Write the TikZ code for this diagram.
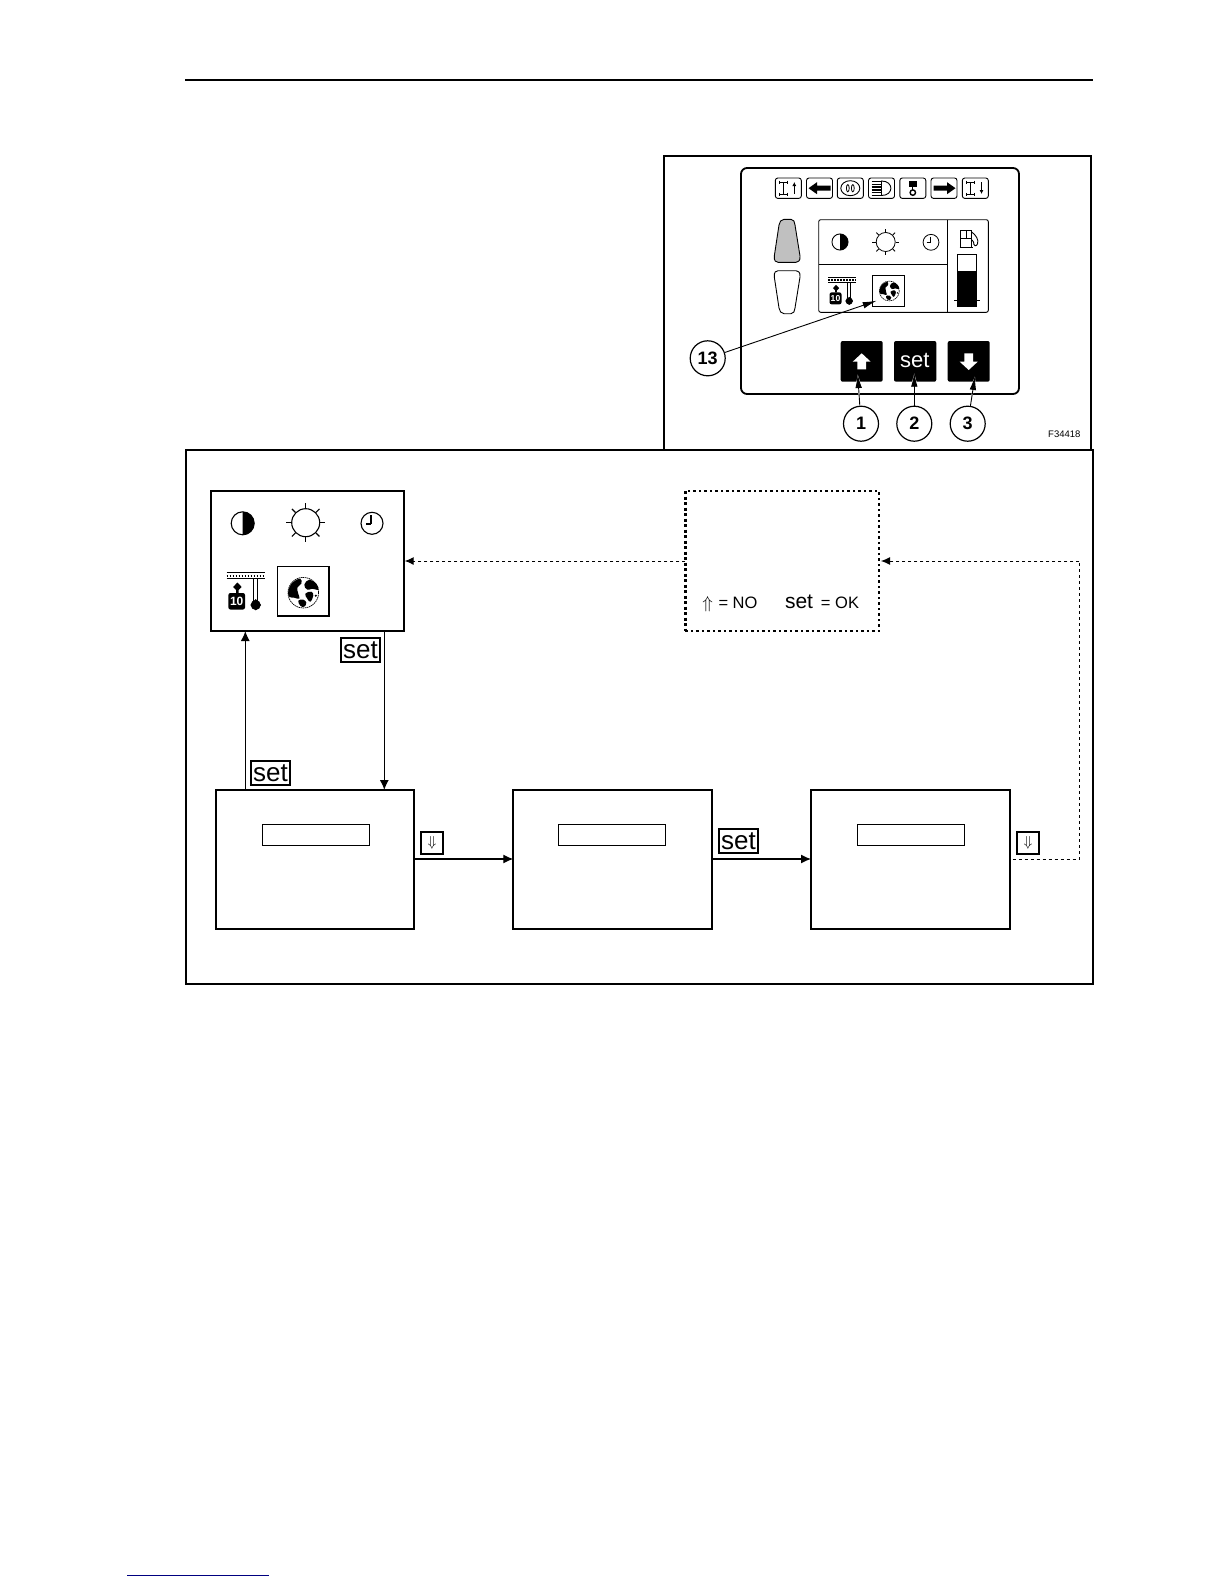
\documentclass[tikz,border=0pt]{standalone}
\usepackage{fontspec}
\setmainfont{Liberation Sans}
\usetikzlibrary{arrows.meta,calc}
\definecolor{linkblue}{HTML}{000080}
\definecolor{lampgray}{HTML}{C0C0C0}
\newcommand{\fsz}[1]{\fontsize{#1}{#1}\selectfont}
% box by its corners: name, x0,y0,x1,y1, style, text
\newcommand{\bx}[7]{%
  \pgfmathsetmacro\bxw{#4-#2}\pgfmathsetmacro\bxh{#5-#3}%
  \pgfmathsetmacro\bxx{(#2+#4)/2}\pgfmathsetmacro\bxy{(#3+#5)/2}%
  \node[#6,minimum width=\bxw pt,minimum height=\bxh pt,inner sep=0pt,outer sep=0pt] (#1) at (\bxx,\bxy) {#7};}
\newcommand{\halficon}[4]{\begin{scope}[shift={(#1,#2)},scale=#3]
  \begin{scope}\clip (0,-12) rectangle (12,12); \fill circle[radius=11.5];\end{scope}
  \draw[line width=#4] circle[radius=11.5];\end{scope}}
\newcommand{\sunicon}[4]{\begin{scope}[shift={(#1,#2)},scale=#3,line width=#4]
  \draw circle[radius=14];
  \foreach \a in {0,45,...,315} \draw (\a:14.6) -- (\a:19.5);
  \end{scope}}
\newcommand{\clockicon}[4]{\begin{scope}[shift={(#1,#2)},scale=#3,line width=#4]
  \draw circle[radius=11];
  \draw (-1,-8) -- (-1,0.7); \draw (-6,0.7) -- (-1,0.7);
  \end{scope}}
\newcommand{\globeicon}[4]{\begin{scope}[shift={(#1,#2)},scale=#3]
  \draw[line width=#4,dash pattern=on 1.5pt off .6pt] circle[radius=15.3];
  \fill plot[smooth cycle,tension=.7] coordinates {(-15,-2) (-11,-10) (-3,-14) (-2,-9) (-6,-5) (-5,1) (-4,6) (-9,5) (-14,4)};
  \fill plot[smooth cycle,tension=.7] coordinates {(-5,8) (0,7) (3,10) (1,14) (-3,13)};
  \fill plot[smooth cycle,tension=.7] coordinates {(1,-8) (6,-13) (13,-9) (15,-3) (9,-4) (4,-3)};
  \fill plot[smooth cycle,tension=.7] coordinates {(2,1) (8,-1) (10,3) (7,9) (4,6)};
  \fill (12.5,3) circle[radius=1.2];
  \end{scope}}
\newcommand{\gaugeicon}[4]{\begin{scope}[shift={(#1,#2)},scale=#3,line width=#4]
  \draw (-19,-18.7) -- (19,-18.7);
  \draw[dash pattern=on 1.5pt off 1.5pt,line width=2pt] (-19,-15) -- (19,-15);
  \draw (-19,-12.7) -- (19,-12.7);
  \fill (-8.3,-8.5) -- (-4,-4) -- (-7,-1) -- (-7,2) -- (-9.6,2) -- (-9.6,-1) -- (-12.6,-4) -- cycle;
  \fill[rounded corners=2pt] (-17.3,2) rectangle (-0.7,18.5);
  \node[white,font=\bfseries\fsz{12},inner sep=0pt,transform shape] at (-9,10.5) {10};
  \draw (8,-12.7) -- (8,10); \draw (12,-12.7) -- (12,10);
  \fill (10,8) -- (15.3,14) -- (10,19.3) -- (4.7,14) -- cycle;
  \fill (10,14) circle[radius=5];
  \end{scope}}
\newcommand{\axleicon}[2]{\begin{scope}[shift={(#1,#2)},line width=.8pt]
  \draw (-9,-6) -- (-1,-6); \draw (-9,6) -- (-1,6); \draw (-5,-6) -- (-5,6);
  \draw (-9,-7.5) -- (-9,-4.5); \draw (-1,-7.5) -- (-1,-4.5); \draw (-9,4.5) -- (-9,7.5); \draw (-1,4.5) -- (-1,7.5);
  \end{scope}}
\tikzset{
  x=1pt,y=-1pt,
  frame/.style={draw,line width=2pt},
  screen/.style={draw,line width=1.8pt,fill=white},
  field/.style={draw,line width=1pt},
  keyframe/.style={draw,line width=2pt,fill=white,font=\fsz{26}},
  downkey/.style={draw,line width=2pt,fill=white,font=\fsz{14}},
  panelicon/.style={draw,line width=.9pt,rounded corners=2.5pt},
  blackkey/.style={fill=black,rounded corners=2pt,text=white,font=\fsz{22}},
  callout/.style={circle,draw,line width=1.2pt,fill=white,minimum size=35pt,inner sep=0pt,font=\bfseries\fsz{18}},
  solidarrow/.style={line width=1.2pt,-{Latex[length=10pt,width=9pt]}},
  dotarrow/.style={line width=1pt,dash pattern=on 3pt off 3pt,-{Latex[length=9pt,width=8pt]}},
  dotline/.style={line width=1pt,dash pattern=on 3pt off 3pt},
  pointer/.style={line width=.9pt,-{Latex[length=14pt,width=6.5pt]}},
  keypointer/.style={line width=.9pt,preaction={draw=white,line width=1.5pt,-{Latex[length=16pt,width=10pt]}},-{Latex[length=14pt,width=6.5pt]}},
}
\begin{document}
\begin{tikzpicture}
\useasboundingbox (0,0) rectangle (1224,1584);
\fill[white] (0,0) rectangle (1224,1584);
% page rules
\coordinate (ruleL) at (185,80); \coordinate (ruleR) at (1093,80);
\draw[line width=1.8pt] (ruleL) -- (ruleR);
\coordinate (linkL) at (127,1575); \coordinate (linkR) at (269,1575);
\draw[linkblue,line width=1pt] (linkL) -- (linkR);
% frames
\bx{topframe}{664}{156}{1091}{450}{frame}{}
\bx{mainframe}{186}{450}{1093}{983.5}{frame}{}
% instrument panel
\bx{panel}{741}{168}{1019}{394}{draw,line width=1.8pt,rounded corners=6pt}{}
\foreach \n/\cx in {1/788.3,2/819.5,3/850.3,4/881.5,5/912.8,6/944,7/975.3}{
  \pgfmathsetmacro\xa{\cx-13}\pgfmathsetmacro\xb{\cx+13}
  \bx{ic\n}{\xa}{178}{\xb}{198.4}{panelicon}{}
}
\axleicon{788.3}{188.2}
\draw[line width=.9pt,-{Latex[length=4pt,width=4pt]}] (794.3,194) -- (794.3,182);
\fill (808.5,188.2) -- (817,182.2) -- (817,185.7) -- (830.5,185.7) -- (830.5,190.7) -- (817,190.7) -- (817,194.2) -- cycle;
\draw[line width=.9pt] (850.3,188.2) ellipse [x radius=9.5,y radius=7.5];
\draw[line width=.8pt] (847.8,188.2) ellipse [x radius=1.4,y radius=3.6] (852.8,188.2) ellipse [x radius=1.4,y radius=3.6];
\draw[line width=.9pt] (881.5,181) .. controls (894,181) and (894,195.5) .. (881.5,195.5) -- cycle;
\foreach \yy in {181.5,184.3,187.1,189.9,192.7,195.2} \draw[line width=1.4pt] (871.5,\yy) -- (880.5,\yy);
\fill (908.8,181) rectangle (916.8,187);
\draw[line width=1.2pt] (912.8,187) -- (912.8,190);
\draw[line width=1.4pt] (912.8,192.6) circle[radius=2.7];
\fill (955.5,188.2) -- (947,182.2) -- (947,185.7) -- (933.5,185.7) -- (933.5,190.7) -- (947,190.7) -- (947,194.2) -- cycle;
\axleicon{975.3}{188.2}
\draw[line width=.9pt,-{Latex[length=4pt,width=4pt]}] (981.5,182) -- (981.5,194);
% lamps
\draw[line width=.9pt,fill=lampgray] (784,219.3) -- (791,219.3) .. controls (794,219.3) and (794.5,222) .. (795,225) -- (800,256) .. controls (800.5,261) and (798,262.3) .. (796,262.3) -- (778,262.3) .. controls (776,262.3) and (773.8,261) .. (774.3,256) -- (779,225) .. controls (779.5,222) and (781,219.3) .. (784,219.3) -- cycle;
\draw[line width=.9pt] (784,313.7) -- (791,313.7) .. controls (794,313.7) and (794.5,311) .. (795,308) -- (800,277) .. controls (800.5,272) and (798,270.7) .. (796,270.7) -- (778,270.7) .. controls (776,270.7) and (773.8,272) .. (774.3,277) -- (779,308) .. controls (779.5,311) and (781,313.7) .. (784,313.7) -- cycle;
% display
\bx{display}{818.7}{219.7}{988.3}{312.3}{draw,line width=.9pt,rounded corners=2pt}{}
\coordinate (divx) at (947.3,0); \coordinate (divy) at (0,264.3);
\draw[line width=.9pt] (display.north -| divx) -- (display.south -| divx);
\draw[line width=.9pt] (display.west |- divy) -- (divx |- divy);
\halficon{840}{242}{.7}{.9pt}
\sunicon{885.7}{242}{.68}{.8pt}
\clockicon{931}{242.3}{.72}{.8pt}
\gaugeicon{842}{291}{.72}{.7pt}
\bx{smallglobe}{872.7}{275.7}{904.7}{306.7}{draw,line width=.9pt}{}
\globeicon{889.3}{291}{.65}{.6pt}
% pump and bar
\draw[line width=.9pt] (960.7,247) -- (960.7,230.3) -- (971.7,230.3) -- (971.7,247);
\draw[line width=.9pt] (960.7,238.3) -- (971.7,238.3);
\draw[line width=.9pt] (966.2,230.3) -- (966.2,238.3);
\draw[line width=1pt] (959.5,247.3) -- (973,247.3);
\draw[line width=.9pt] (971.7,232) .. controls (976,235) and (979,240) .. (977.5,244) .. controls (976,247) and (973.5,246) .. (973.5,242) -- (972,240);
\bx{fuelbar}{957.3}{254.3}{976.7}{306.7}{draw,line width=.9pt}{}
\fill (957.3,271) rectangle (976.7,306.7);
\draw[line width=1pt] (954,300) -- (980,300);
% keys
\bx{keyup}{840.7}{341}{882.7}{381.7}{blackkey}{}
\bx{keyset}{894}{341}{936.3}{381.7}{blackkey}{}
\node[text=white,font=\fsz{22},inner sep=0pt,anchor=base] (keysettxt) at (914.8,367) {set};
\bx{keydown}{947.7}{341}{989.7}{381.7}{blackkey}{}
\fill[white] (861.7,353.3) -- (870.7,361.7) -- (866,361.7) -- (866,369.3) -- (857.4,369.3) -- (857.4,361.7) -- (852.7,361.7) -- cycle;
\fill[white] (968.7,370) -- (977.7,361.7) -- (973,361.7) -- (973,353.3) -- (964.4,353.3) -- (964.4,361.7) -- (959.7,361.7) -- cycle;
% callouts
\node[callout] (c13) at (707.7,358.3) {13};
\node[callout] (c1) at (861,423.7) {1};
\node[callout] (c2) at (914.3,423.7) {2};
\node[callout] (c3) at (967.7,423.7) {3};
\coordinate (p13) at (876.7,300.7);
\coordinate (p1) at (857.7,374);
\coordinate (p2) at (914.3,372.7);
\coordinate (p3) at (975,376);
\draw[pointer] (c13) -- (p13);
\draw[keypointer] (c1) -- (p1);
\draw[keypointer] (c2) -- (p2);
\draw[keypointer] (c3) -- (p3);
\node[font=\fsz{9.5},inner sep=0pt] (figno) at (1064.3,434.7) {F34418};
% menu screen
\bx{menu}{211}{491}{403.7}{631}{screen}{}
\halficon{242.7}{523.3}{1}{1.1pt}
\sunicon{305.7}{522.7}{1}{1.1pt}
\clockicon{372}{523.3}{1}{1.1pt}
\gaugeicon{245.7}{591}{1}{1pt}
\bx{bigglobe}{277.7}{566.7}{329}{616}{draw,line width=1.2pt}{}
\globeicon{303.3}{592.7}{1}{.7pt}
% confirmation screen
\bx{confirm}{685.3}{491}{879}{631}{draw,line width=2pt,dash pattern=on 2.5pt off 3pt}{}
\draw[line width=3pt,dash pattern=on 3pt off 2.5pt] (confirm.north west) -- (confirm.south west);
\node[font=\fsz{16},inner sep=0pt,anchor=base] (upsym) at (707.7,608.3) {$\Uparrow$};
\node[font=\fsz{16.5},inner sep=0pt,anchor=base] (notxt) at (738,608.3) {= NO};
\node[font=\fsz{21},inner sep=0pt,anchor=base] (settxt) at (799,608.3) {set};
\node[font=\fsz{16.5},inner sep=0pt,anchor=base] (oktxt) at (840,608.3) {= OK};
% lower screens
\bx{scrA}{216}{790}{414}{929}{screen}{}
\bx{fieldA}{262.3}{824.3}{369.7}{845.3}{field}{}
\bx{scrB}{513.3}{790}{712.3}{929}{screen}{}
\bx{fieldB}{558.3}{824.3}{665.7}{845.3}{field}{}
\bx{scrC}{811}{790}{1010}{929}{screen}{}
\bx{fieldC}{857.3}{824.3}{964.7}{845.3}{field}{}
% key labels
\bx{setA}{340.7}{637.7}{380.3}{662}{keyframe}{set}
\bx{setB}{250.7}{760.7}{290.3}{785}{keyframe}{set}
\bx{setC}{718.7}{828.7}{758.3}{853.3}{keyframe}{set}
\bx{downA}{420.7}{831.7}{443.3}{854.3}{downkey}{$\Downarrow$}
\bx{downC}{1016.7}{831.7}{1039.3}{854.3}{downkey}{$\Downarrow$}
% connectors
\coordinate (upx) at (245.3,0);
\coordinate (dnx) at (384.3,0);
\coordinate (rowy) at (0,859);
\coordinate (dashy) at (0,561);
\coordinate (farx) at (1079.3,0);
\coordinate (startC) at (1012.7,859);
\draw[solidarrow] (scrA.north -| upx) -- (menu.south -| upx);
\draw[solidarrow] (menu.south -| dnx) -- (scrA.north -| dnx);
\draw[solidarrow] (scrA.east |- rowy) -- (scrB.west |- rowy);
\draw[solidarrow] (scrB.east |- rowy) -- (scrC.west |- rowy);
\draw[dotline] (startC) -- (farx |- rowy) -- (farx |- dashy);
\draw[dotarrow] (farx |- dashy) -- ($(confirm.east |- dashy)+(2,0)$);
\draw[dotarrow] (confirm.west |- dashy) -- ($(menu.east |- dashy)+(1,0)$);
\end{tikzpicture}
\end{document}
